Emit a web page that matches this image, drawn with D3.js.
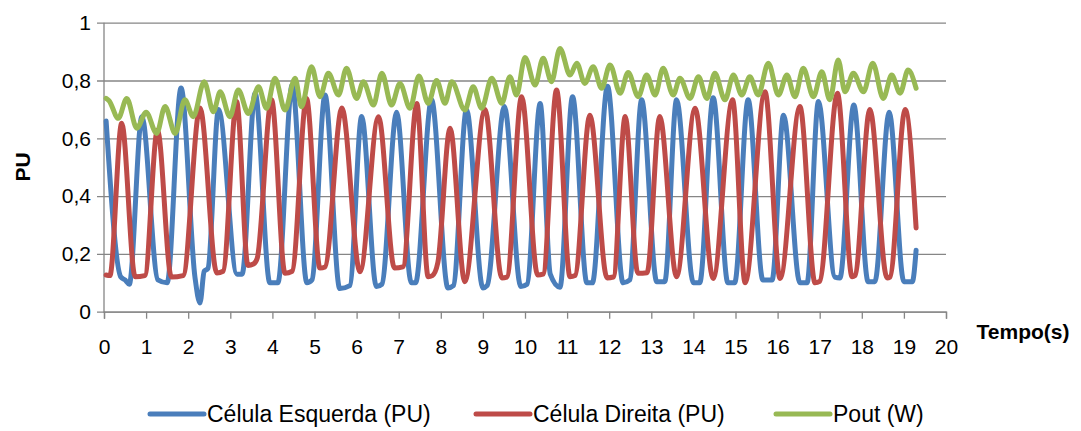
<!DOCTYPE html>
<html>
<head>
<meta charset="utf-8">
<script src="https://cdn.jsdelivr.net/npm/d3@7"></script>
<style>
  html, body { margin: 0; padding: 0; background: #fff; }
  svg text { font-family: "Liberation Sans", Arial, sans-serif; fill: #000; }
</style>
</head>
<body>
<svg id="chart" width="1081" height="431"></svg>
<script>
// ---- Data ----
const xTicks = [0,1,2,3,4,5,6,7,8,9,10,11,12,13,14,15,16,17,18,19,20];
const yTicks = [0, 0.2, 0.4, 0.6, 0.8, 1];
const yTickLabels = ["0", "0,2", "0,4", "0,6", "0,8", "1"];
const seriesNames = ["Célula Esquerda (PU)", "Célula Direita (PU)", "Pout (W)"];
const seriesColors = ["#4A7EBB", "#BE4B48", "#98B954"];

// Célula Esquerda (PU): [tempo, valor]
const esquerda = [
  [0.05,0.66],[0.4,0.12],[0.5,0.11],[0.6,0.095],[0.9,0.675],[1.28,0.11],[1.5,0.10],
  [1.83,0.774],[2.16,0.12],[2.28,0.03],[2.38,0.14],[2.47,0.15],[2.72,0.70],[3.16,0.13],
  [3.28,0.13],[3.59,0.756],[3.94,0.10],[4.13,0.10],[4.47,0.784],[4.82,0.10],[4.94,0.11],
  [5.25,0.75],[5.6,0.08],[5.84,0.09],[6.12,0.675],[6.47,0.087],[6.6,0.095],[6.95,0.69],
  [7.3,0.10],[7.4,0.10],[7.78,0.733],[8.17,0.082],[8.3,0.09],[8.61,0.70],[9.0,0.082],
  [9.1,0.09],[9.51,0.71],[9.9,0.087],[10.05,0.095],[10.36,0.72],[10.6,0.13],[10.83,0.085],
  [11.13,0.744],[11.47,0.10],[11.6,0.10],[11.96,0.78],[12.33,0.10],[12.49,0.11],[12.77,0.733],
  [13.13,0.104],[13.32,0.104],[13.6,0.733],[14.0,0.10],[14.15,0.10],[14.47,0.74],[14.82,0.10],
  [14.98,0.10],[15.3,0.733],[15.65,0.11],[15.87,0.11],[16.14,0.68],[16.53,0.10],[16.7,0.10],
  [16.97,0.727],[17.36,0.12],[17.48,0.117],[17.81,0.715],[18.15,0.104],[18.31,0.104],
  [18.65,0.69],[19.0,0.104],[19.2,0.104],[19.29,0.213]
];

// Célula Direita (PU)
const direita = [
  [0.05,0.127],[0.14,0.125],[0.42,0.652],[0.74,0.121],[0.97,0.125],[1.27,0.629],[1.6,0.12],
  [1.88,0.125],[2.28,0.705],[2.68,0.134],[2.83,0.14],[3.15,0.727],[3.42,0.16],[3.55,0.165],
  [3.64,0.185],[3.98,0.733],[4.3,0.133],[4.47,0.14],[4.81,0.738],[5.13,0.151],[5.25,0.155],
  [5.65,0.705],[6.08,0.138],[6.52,0.675],[6.9,0.151],[7.1,0.155],[7.43,0.72],[7.7,0.121],
  [7.8,0.125],[7.93,0.17],[8.22,0.635],[8.57,0.104],[9.05,0.70],[9.45,0.117],[9.57,0.12],
  [9.92,0.744],[10.3,0.127],[10.43,0.13],[10.75,0.767],[11.07,0.121],[11.19,0.125],[11.54,0.68],
  [11.95,0.117],[12.1,0.12],[12.38,0.675],[12.68,0.133],[12.9,0.135],[13.2,0.675],[13.6,0.121],
  [14.04,0.704],[14.47,0.115],[14.93,0.733],[15.23,0.10],[15.7,0.761],[16.06,0.115],[16.53,0.71],
  [16.89,0.10],[17.0,0.105],[17.42,0.756],[17.77,0.121],[17.84,0.125],[18.19,0.70],[18.6,0.117],
  [18.67,0.12],[19.03,0.70],[19.29,0.29]
];

// Pout (W)
const pout = [
  [0.05,0.738],[0.12,0.73],[0.34,0.669],[0.54,0.738],[0.78,0.635],[1.0,0.69],[1.25,0.617],
  [1.45,0.71],[1.69,0.617],[1.92,0.733],[2.12,0.675],[2.38,0.796],[2.6,0.692],[2.76,0.761],
  [2.99,0.675],[3.19,0.767],[3.43,0.686],[3.67,0.778],[3.86,0.704],[4.06,0.808],[4.3,0.698],
  [4.54,0.808],[4.69,0.709],[4.93,0.848],[5.13,0.744],[5.33,0.825],[5.57,0.75],[5.76,0.842],
  [6.0,0.738],[6.16,0.796],[6.4,0.715],[6.6,0.825],[6.83,0.715],[7.03,0.79],[7.27,0.704],
  [7.48,0.816],[7.7,0.721],[7.9,0.80],[8.1,0.721],[8.26,0.796],[8.57,0.698],[8.77,0.778],
  [8.97,0.704],[9.21,0.808],[9.45,0.721],[9.64,0.813],[9.8,0.75],[10.0,0.88],[10.24,0.784],
  [10.43,0.877],[10.63,0.796],[10.83,0.911],[11.07,0.819],[11.23,0.86],[11.42,0.79],[11.62,0.848],
  [11.82,0.773],[12.02,0.854],[12.26,0.756],[12.45,0.828],[12.69,0.744],[12.89,0.819],[13.09,0.75],
  [13.28,0.842],[13.52,0.75],[13.68,0.808],[13.92,0.738],[14.12,0.813],[14.32,0.738],[14.51,0.825],
  [14.75,0.733],[14.95,0.819],[15.15,0.75],[15.34,0.813],[15.54,0.75],[15.78,0.86],[16.02,0.75],
  [16.22,0.819],[16.41,0.744],[16.61,0.842],[16.85,0.744],[17.05,0.83],[17.24,0.733],[17.44,0.871],
  [17.6,0.761],[17.8,0.825],[18.04,0.761],[18.26,0.86],[18.51,0.738],[18.71,0.819],[18.91,0.756],
  [19.1,0.836],[19.29,0.773]
];

const seriesData = [esquerda, direita, pout];

// ---- Layout ----
const svg = d3.select("#chart");
const plotLeft = 104, plotRight = 946, plotTop = 22.7, plotBottom = 311.7;
const x = d3.scaleLinear().domain([0, 20]).range([plotLeft, plotRight]);
const y = d3.scaleLinear().domain([0, 1]).range([plotBottom, plotTop]);
const gridColor = "#868686";
const tickFont = 21;

// horizontal gridlines with left ticks
const yAxis = d3.axisLeft(y).tickValues(yTicks)
  .tickSize(-(plotRight - plotLeft)).tickPadding(13)
  .tickFormat((d, i) => yTickLabels[i]);
const gy = svg.append("g").attr("transform", `translate(${plotLeft},0)`).call(yAxis);
gy.select(".domain").remove();
gy.selectAll(".tick line").attr("stroke", gridColor).attr("stroke-width", 1.3).attr("x1", -7);
gy.selectAll(".tick text").attr("font-size", tickFont).attr("fill", "#000")
  .style("font-family", "'Liberation Sans', Arial, sans-serif");

// vertical axis line
svg.append("line").attr("x1", plotLeft).attr("x2", plotLeft).attr("y1", plotTop).attr("y2", plotBottom + 1)
  .attr("stroke", gridColor).attr("stroke-width", 1.3);

// x axis
const xAxis = d3.axisBottom(x).tickValues(xTicks).tickSize(7).tickPadding(20).tickFormat(d3.format("d"));
const gx = svg.append("g").attr("transform", `translate(0,${plotBottom})`).call(xAxis);
gx.select(".domain").attr("stroke", gridColor).attr("stroke-width", 1.3);
gx.selectAll(".tick line").attr("stroke", gridColor).attr("stroke-width", 1.3);
gx.selectAll(".tick text").attr("font-size", tickFont).attr("fill", "#000")
  .style("font-family", "'Liberation Sans', Arial, sans-serif");

// axis titles
svg.append("text").attr("transform", "translate(30,167) rotate(-90)")
  .attr("text-anchor", "middle").attr("font-size", 21).attr("font-weight", "bold").text("PU");
svg.append("text").attr("x", 1023).attr("y", 339)
  .attr("text-anchor", "middle").attr("font-size", 21).attr("font-weight", "bold").text("Tempo(s)");

// series
const line = d3.line().x(d => x(d[0])).y(d => y(d[1])).curve(d3.curveMonotoneX);
seriesData.forEach((s, i) => {
  svg.append("path").datum(s).attr("d", line)
    .attr("fill", "none").attr("stroke", seriesColors[i])
    .attr("stroke-width", 5).attr("stroke-linejoin", "round").attr("stroke-linecap", "round");
});

// legend
const legendX = [150, 476, 776];
const legendY = 414;
seriesNames.forEach((name, i) => {
  const g = svg.append("g").attr("transform", `translate(${legendX[i]},${legendY})`);
  g.append("line").attr("x1", 0).attr("x2", 54).attr("y1", 0).attr("y2", 0)
    .attr("stroke", seriesColors[i]).attr("stroke-width", 5).attr("stroke-linecap", "round");
  g.append("text").attr("x", 57).attr("y", 0).attr("dy", "0.35em")
    .attr("font-size", 23).text(name);
});
</script>
</body>
</html>
